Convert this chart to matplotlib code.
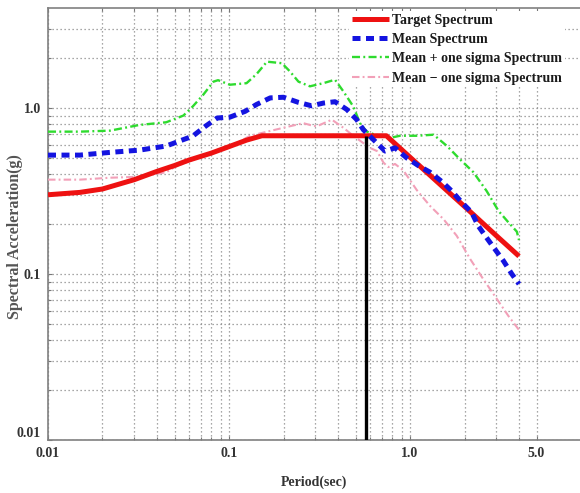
import matplotlib
matplotlib.use("Agg")
import matplotlib.pyplot as plt
from matplotlib.ticker import FixedLocator, FixedFormatter, NullFormatter

# ---------------- data ----------------
target_T = [0.01, 0.015, 0.02, 0.03, 0.04, 0.05, 0.06, 0.08, 0.10, 0.125, 0.152,
            0.74, 1.0, 2.0, 3.0, 4.0]
target_Sa = [0.30, 0.31, 0.325, 0.37, 0.415, 0.45, 0.485, 0.535, 0.585, 0.64, 0.68,
             0.68, 0.505, 0.255, 0.17, 0.128]

mean_T = [0.010, 0.015, 0.022, 0.032, 0.045, 0.056, 0.063, 0.074, 0.086, 0.101,
          0.123, 0.142, 0.169, 0.200, 0.242, 0.286, 0.332, 0.385, 0.447, 0.508,
          0.552, 0.627, 0.728, 0.826, 0.959, 1.11, 1.29, 1.50, 1.70, 1.93,
          2.19, 2.38, 2.60, 2.89, 3.28, 3.65, 4.0]
mean_Sa = [0.52, 0.52, 0.54, 0.557, 0.59, 0.645, 0.676, 0.775, 0.87, 0.88,
           0.955, 1.05, 1.15, 1.16, 1.08, 1.03, 1.07, 1.09, 0.98, 0.85,
           0.74, 0.645, 0.55, 0.575, 0.50, 0.45, 0.41, 0.36, 0.316, 0.27,
           0.235, 0.195, 0.17, 0.145, 0.12, 0.10, 0.087]

plus_T = [0.010, 0.015, 0.022, 0.032, 0.045, 0.056, 0.063, 0.072, 0.082, 0.087,
          0.101, 0.125, 0.142, 0.162, 0.196, 0.217, 0.242, 0.280, 0.332, 0.385,
          0.428, 0.486, 0.529, 0.577, 0.64, 0.775, 0.88, 1.09, 1.35, 1.60,
          1.89, 2.24, 2.65, 3.08, 3.49, 3.89, 4.0]
plus_Sa = [0.72, 0.72, 0.73, 0.79, 0.82, 0.90, 1.02, 1.20, 1.44, 1.47,
           1.38, 1.41, 1.60, 1.90, 1.86, 1.66, 1.44, 1.35, 1.41, 1.48,
           1.26, 1.02, 0.81, 0.72, 0.69, 0.66, 0.68, 0.68, 0.69, 0.59,
           0.49, 0.41, 0.316, 0.24, 0.205, 0.18, 0.16]

minus_T = [0.010, 0.015, 0.022, 0.032, 0.045, 0.05, 0.07, 0.097, 0.131, 0.20,
           0.257, 0.28, 0.305, 0.37, 0.428, 0.486, 0.60, 0.657, 0.712, 0.757,
           0.826, 0.92, 1.09, 1.29, 1.53, 1.81, 2.15, 2.54, 3.01, 3.49, 4.0]
minus_Sa = [0.37, 0.37, 0.38, 0.385, 0.41, 0.44, 0.51, 0.57, 0.68, 0.76,
            0.81, 0.79, 0.775, 0.85, 0.76, 0.68, 0.575, 0.55, 0.47, 0.44,
            0.46, 0.42, 0.32, 0.257, 0.214, 0.17, 0.123, 0.093, 0.071, 0.056, 0.046]

marker_T = 0.57
marker_Sa = [0.01, 0.68]

x_major = [0.01, 0.1, 1.0, 5.0]
x_major_labels = ["0.01", "0.1", "1.0", "5.0"]
x_minor = [0.02, 0.03, 0.04, 0.05, 0.06, 0.07, 0.08, 0.09,
           0.2, 0.3, 0.4, 0.5, 0.6, 0.7, 0.8, 0.9, 2, 3, 4]
y_major = [0.01, 0.1, 1.0]
y_major_labels = ["0.01", "0.1", "1.0"]
y_minor = [0.02, 0.03, 0.04, 0.05, 0.06, 0.07, 0.08, 0.09,
           0.2, 0.3, 0.4, 0.5, 0.6, 0.7, 0.8, 0.9, 2, 3]

labels = ["Target Spectrum", "Mean Spectrum",
          "Mean + one sigma Spectrum", "Mean \u2212 one sigma Spectrum"]

# ---------------- figure ----------------
plt.rcParams['font.family'] = ['Liberation Serif', 'DejaVu Serif']
fig = plt.figure(figsize=(5.8, 4.93), dpi=100)
ax = fig.add_axes([48/580, 53/493, 1 - 48/580, (440-8)/493])

ax.set_xscale('log')
ax.set_yscale('log')
ax.set_xlim(0.01, 8.69)
ax.set_ylim(0.01, 4.0)

grid_kw = dict(color='#8a8a8a', linestyle=(0, (1, 2.2)), linewidth=0.9)
ax.xaxis.set_major_locator(FixedLocator(x_major))
ax.xaxis.set_major_formatter(FixedFormatter(x_major_labels))
ax.xaxis.set_minor_locator(FixedLocator(x_minor))
ax.xaxis.set_minor_formatter(NullFormatter())
ax.yaxis.set_major_locator(FixedLocator(y_major))
ax.yaxis.set_major_formatter(FixedFormatter(y_major_labels))
ax.yaxis.set_minor_locator(FixedLocator(y_minor))
ax.yaxis.set_minor_formatter(NullFormatter())
ax.grid(True, which='both', **grid_kw)
ax.set_axisbelow(True)

ax.tick_params(which='both', direction='in', top=True, right=False,
               color='#777777', width=0.8)
ax.tick_params(which='major', length=3, labelsize=10, labelcolor='#333333')
ax.tick_params(axis='x', which='major', pad=5)
ax.tick_params(axis='y', which='major', pad=5)
ax.tick_params(which='minor', length=2)
for lab in ax.get_xticklabels() + ax.get_yticklabels():
    lab.set_fontweight('bold')
# y-axis "0.01" sits a little above the corner, as in the reference
ax.get_yticklabels()[0].set_verticalalignment('bottom')

for s in ['left', 'bottom', 'top']:
    ax.spines[s].set_color('#808080')
    ax.spines[s].set_linewidth(1.2)
ax.spines['right'].set_visible(False)

l1, = ax.plot(target_T, target_Sa, color='#ee1111', lw=3.6, solid_capstyle='butt',
              label=labels[0], zorder=4)
l2, = ax.plot(mean_T, mean_Sa, color='#1414e0', lw=3.6, linestyle=(0, (1.6, 1.1)),
              dash_capstyle='butt', label=labels[1], zorder=5)
l3, = ax.plot(plus_T, plus_Sa, color='#2edb2e', lw=1.7, linestyle=(0, (3.4, 1.4, 0.8, 1.4)),
              label=labels[2], zorder=3)
l4, = ax.plot(minus_T, minus_Sa, color='#f2a0b8', lw=1.5, linestyle=(0, (3.6, 1.5, 0.9, 1.5)),
              label=labels[3], zorder=3)
ax.plot([marker_T, marker_T], marker_Sa, color='black', lw=2.4, zorder=6,
        solid_capstyle='butt')

leg = ax.legend(handles=[l1, l2, l3, l4], loc='upper left',
                bbox_to_anchor=(349/580, 1 - 11/493), bbox_transform=fig.transFigure,
                frameon=True, fancybox=False, edgecolor='none', facecolor='white',
                framealpha=1.0, prop={'weight': 'bold', 'size': 10},
                handlelength=2.7, handletextpad=0.2, labelspacing=0.45,
                borderpad=0.2, borderaxespad=0.0)
for t in leg.get_texts():
    t.set_color('#1a1a1a')

ax.set_xlabel("Period(sec)", fontsize=10, fontweight='bold', color='#333333')
ax.xaxis.set_label_coords(0.5, -36/432)
ax.set_ylabel("Spectral Acceleration(g)", fontsize=11.5, fontweight='bold', color='#555555')
ax.yaxis.set_label_coords(-25/532, 0.472)

fig.savefig("out.png", dpi=100)
